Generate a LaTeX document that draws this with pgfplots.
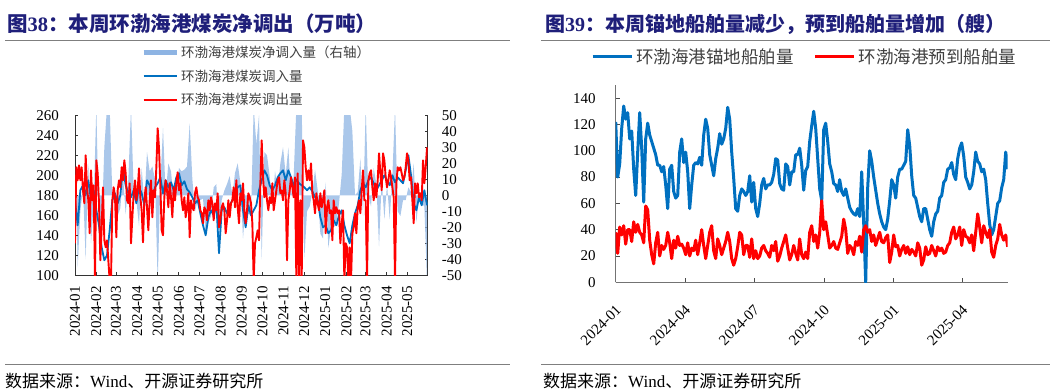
\documentclass[border=0pt]{standalone}
\usepackage{pgfplots}
\pgfplotsset{compat=1.18}
\usepackage{fontspec}
\setmainfont{Liberation Serif}
\newfontfamily\cjk{Noto Sans CJK SC}
\definecolor{inblue}{HTML}{0070C0}
\definecolor{outred}{HTML}{FF0000}
\definecolor{netblue}{HTML}{8EB4E3}
\definecolor{titleblue}{HTML}{1F1F7A}
\definecolor{rulegray}{HTML}{7F7F7F}
\definecolor{txtgray}{HTML}{404040}
\newcommand{\tickfont}{\fontsize{15}{15}\selectfont}
\begin{document}
\begin{tikzpicture}
\path[use as bounding box] (0pt,0pt) rectangle (1057pt,390pt);
% titles and rules
\node[anchor=base west, inner sep=0pt, text=titleblue, font=\fontsize{20.5}{20.5}\selectfont\bfseries] at (7pt,358pt) {{\cjk 图}38{\cjk ：本周环渤海港煤炭净调出（万吨）}};
\node[anchor=base west, inner sep=0pt, text=titleblue, font=\fontsize{20}{20}\selectfont\bfseries] at (545pt,358pt) {{\cjk 图}39{\cjk ：本周锚地船舶量减少，预到船舶量增加（艘）}};
\draw[rulegray, line width=0.9pt] (5pt,350pt) -- (510pt,350pt);
\draw[rulegray, line width=0.9pt] (541pt,350pt) -- (1050pt,350pt);
\draw[rulegray, line width=0.9pt] (5pt,25.7pt) -- (510pt,25.7pt);
\draw[rulegray, line width=0.9pt] (541pt,25.7pt) -- (1050pt,25.7pt);
\node[anchor=base west, inner sep=0pt, font=\fontsize{17}{17}\selectfont] at (5pt,2pt) {{\cjk 数据来源：}Wind{\cjk 、开源证券研究所}};
\node[anchor=base west, inner sep=0pt, font=\fontsize{17}{17}\selectfont] at (543pt,2pt) {{\cjk 数据来源：}Wind{\cjk 、开源证券研究所}};

% ---------- left panel: net (right axis) ----------
\begin{axis}[
  at={(75pt,114.7pt)}, anchor=south west,
  width=352.7pt, height=160pt, scale only axis,
  xmin=0, xmax=264.5, ymin=-50, ymax=50,
  axis x line=none, axis y line*=right,
  axis line style={-, black!80, line width=0.9pt},
  ytick={-50,-40,-30,-20,-10,0,10,20,30,40,50},
  tick align=inside, major tick length=3pt,
  tick style={black!80, line width=0.8pt},
  /pgf/number format/assume math mode=true,
  yticklabel style={font=\tickfont, anchor=west, inner sep=0pt, xshift=14pt},
]
\addplot[fill=netblue, draw=none, fill opacity=0.75] coordinates {
(0,43)(2,-45)(4,-10)(6,5)(8,-40)(10,20)(12,-30)(14,-5)(16,55)(18,-22)(20,-20)(22,30)(24,55)(26,55)(28,0)(30,4)(32,-13)(34,-8)(36,13)(38,-12)(40,10)(42,55)(44,3)(46,-3)(48,-19)(50,17)(52,-5)(54,27)(56,15)(58,18)(60,10)(62,-55)(64,8)(66,42)(68,0)(70,20)(72,15)(74,-3)(76,6)(78,17)(80,15)(82,16)(84,18)(86,45)(88,10)(90,-10)(92,-3)(94,-3)(96,-2)(98,-25)(100,-17)(102,-13)(104,5)(106,7)(108,-26)(110,-3)(112,3)(114,7)(116,12)(118,0)(120,14)(122,20)(124,8)(126,-27)(128,-4)(130,-12)(132,-12)(134,55)(136,32)(138,50)(140,-40)(142,27)(144,25)(146,12)(148,-7)(150,15)(152,3)(154,20)(156,30)(158,13)(160,30)(162,0)(164,12)(166,55)(168,55)(170,55)(172,-40)(174,-10)(176,-7)(178,2)(180,16)(182,3)(184,-24)(186,-27)(188,8)(190,-33)(192,-20)(194,-20)(196,-18)(198,-5)(200,13)(202,55)(204,55)(206,55)(208,40)(210,0)(212,2)(214,23)(216,-13)(218,55)(220,0)(222,-7)(224,17)(226,7)(228,-32)(230,10)(232,-15)(234,7)(236,-15)(238,12)(240,55)(242,-10)(244,-13)(246,-3)(248,-3)(250,5)(252,2)(254,20)(256,-17)(258,0)(260,-5)(262,-7)(264,-55)
} \closedcycle;
\end{axis}

% ---------- left panel: lines (left axis) ----------
\begin{axis}[
  at={(75pt,114.7pt)}, anchor=south west,
  width=352.7pt, height=160pt, scale only axis,
  xmin=0, xmax=264.5, ymin=100, ymax=260,
  axis x line*=bottom, axis y line*=left,
  axis line style={-, black!80, line width=0.9pt},
  ytick={100,120,140,160,180,200,220,240,260},
  xtick={0,15.9,30.8,46.7,62.0,77.9,93.3,109.2,125.1,140.5,156.4,171.8,187.7,203.6,217.9,233.8,249.2},
  xticklabels={2024-01,2024-02,2024-03,2024-04,2024-05,2024-06,2024-07,2024-08,2024-09,2024-10,2024-11,2024-12,2025-01,2025-02,2025-03,2025-04,2025-05},
  tick align=inside, major tick length=3pt,
  tick style={black!80, line width=0.8pt},
  /pgf/number format/assume math mode=true,
  yticklabel style={font=\tickfont, anchor=east, inner sep=0pt, xshift=-16pt},
  xticklabel style={font=\tickfont, yshift=-11pt, rotate=90, anchor=east, inner sep=0pt},
  legend style={at={(axis description cs:0.187,1.445)}, anchor=north west, draw=none, fill=none,
    font=\cjk\fontsize{13.5}{13.5}\selectfont\color{txtgray}, row sep=6.5pt, inner sep=0pt,
    nodes={inner sep=2pt}},
  legend cell align=left,
  legend image code/.code={\draw[#1] (0pt,0pt) -- (33pt,0pt);},
]
\addlegendimage{netblue, line width=5pt}
\addlegendentry{环渤海港煤炭净调入量（右轴）}
\addplot[inblue, line width=1.8pt, line join=round] coordinates {
(0,175)(2,150)(4,185)(6,190)(8,180)(10,195)(12,175)(14,185)(16,165)(18,150)(20,128)(22,115)(24,120)(26,145)(28,175)(30,182)(32,172)(34,180)(36,208)(38,190)(40,182)(42,178)(44,185)(46,172)(48,188)(50,182)(52,170)(54,195)(56,190)(58,176)(60,188)(62,192)(64,198)(66,182)(68,195)(70,188)(72,193)(74,185)(76,198)(78,202)(80,190)(82,194)(84,186)(86,183)(88,178)(90,172)(92,175)(94,162)(96,150)(98,140)(100,158)(102,165)(104,160)(106,172)(108,122)(110,165)(112,168)(114,162)(116,170)(118,175)(120,182)(122,188)(124,190)(126,165)(128,148)(130,170)(132,160)(134,165)(136,170)(138,185)(140,195)(142,205)(144,200)(146,190)(148,185)(150,190)(152,198)(154,202)(156,205)(158,195)(160,205)(162,198)(164,190)(166,196)(168,192)(170,190)(172,188)(174,185)(176,188)(178,184)(180,178)(182,175)(184,158)(186,148)(188,150)(190,142)(192,145)(194,155)(196,150)(198,160)(200,165)(202,150)(204,140)(206,132)(208,150)(210,162)(212,170)(214,185)(216,192)(218,188)(220,195)(222,198)(224,192)(226,185)(228,190)(230,195)(232,200)(234,195)(236,190)(238,200)(240,193)(242,198)(244,195)(246,192)(248,205)(250,220)(252,200)(254,172)(256,165)(258,178)(260,170)(262,185)(264,170)
};
\addlegendentry{环渤海港煤炭调入量}
\addplot[outred, line width=1.9pt, line join=round] coordinates {
(0,132)(1,208)(2,195)(3,210)(4,195)(5,208)(6,185)(7,172)(8,220)(9,188)(10,175)(11,142)(12,205)(13,175)(14,190)(15,95)(16,215)(17,202)(18,172)(19,115)(20,148)(21,188)(22,135)(23,128)(24,135)(25,115)(26,95)(27,95)(28,175)(29,188)(30,178)(31,138)(32,185)(33,195)(34,188)(35,208)(36,195)(37,215)(38,202)(39,175)(40,172)(41,192)(42,132)(43,158)(44,182)(45,195)(46,175)(47,185)(48,207)(49,178)(50,165)(51,133)(52,175)(53,188)(54,168)(55,145)(56,175)(57,195)(58,158)(59,185)(60,178)(61,208)(62,247)(63,227)(64,190)(65,145)(66,140)(67,178)(68,195)(69,185)(70,168)(71,192)(72,178)(73,158)(74,188)(75,175)(76,192)(77,203)(78,185)(79,192)(80,175)(81,165)(82,178)(83,158)(84,168)(85,182)(86,138)(87,175)(88,168)(89,165)(90,182)(91,188)(92,178)(93,175)(94,165)(95,162)(96,152)(97,168)(98,165)(99,155)(100,175)(101,165)(102,178)(103,172)(104,155)(105,172)(106,165)(107,182)(108,148)(109,155)(110,168)(111,172)(112,165)(113,142)(114,155)(115,175)(116,158)(117,172)(118,175)(119,188)(120,168)(121,195)(122,168)(123,152)(124,182)(125,175)(126,192)(127,165)(128,152)(129,165)(130,182)(131,178)(132,172)(133,152)(134,95)(135,132)(136,138)(137,145)(138,135)(139,192)(140,235)(141,198)(142,178)(143,188)(144,175)(145,165)(146,178)(147,172)(148,192)(149,165)(150,175)(151,185)(152,195)(153,198)(154,182)(155,185)(156,175)(157,195)(158,182)(159,115)(160,175)(161,185)(162,198)(163,188)(164,178)(165,198)(166,95)(167,202)(168,95)(169,175)(170,95)(171,235)(172,228)(173,208)(174,195)(175,205)(176,195)(177,212)(178,182)(179,175)(180,162)(181,182)(182,172)(183,165)(184,182)(185,168)(186,175)(187,185)(188,142)(189,168)(190,175)(191,162)(192,165)(193,135)(194,175)(195,162)(196,168)(197,162)(198,165)(199,132)(200,152)(201,165)(202,95)(203,132)(204,128)(205,95)(206,128)(207,95)(208,142)(209,148)(210,162)(211,142)(212,168)(213,175)(214,162)(215,185)(216,205)(217,175)(218,175)(219,95)(220,195)(221,202)(222,205)(223,188)(224,175)(225,192)(226,178)(227,195)(228,222)(229,202)(230,185)(231,222)(232,215)(233,198)(234,188)(235,195)(236,205)(237,198)(238,188)(239,178)(240,95)(241,192)(242,208)(243,205)(244,208)(245,202)(246,195)(247,198)(248,208)(249,222)(250,215)(251,195)(252,198)(253,175)(254,152)(255,192)(256,182)(257,192)(258,178)(259,182)(260,175)(261,215)(262,192)(263,208)(264,228)
};
\addlegendentry{环渤海港煤炭调出量}
\end{axis}

% ---------- right panel ----------
\begin{axis}[
  at={(615.7pt,107.7pt)}, anchor=south west,
  width=392pt, height=197.3pt, scale only axis,
  xmin=0, xmax=196, ymin=0, ymax=150,
  axis x line*=bottom, axis y line*=left,
  axis line style={-, black!55, line width=1.2pt},
  ytick={0,20,40,60,80,100,120,140},
  xtick={0,34.6,69.1,104.1,139.0,173.2},
  xticklabels={2024-01,2024-04,2024-07,2024-10,2025-01,2025-04},
  tick align=inside, major tick length=4pt,
  tick style={black!70, line width=0.8pt},
  /pgf/number format/assume math mode=true,
  yticklabel style={font=\tickfont, anchor=east, inner sep=0pt, xshift=-20pt},
  xticklabel style={font=\tickfont, xshift=3pt, yshift=-25pt, rotate=45, anchor=east, inner sep=0pt},
  legend columns=2,
  legend style={at={(axis description cs:-0.063,1.142)}, anchor=west, draw=none, fill=none,
    font=\cjk\fontsize{17.5}{17.5}\selectfont\color{txtgray}, inner sep=0pt,
    nodes={inner sep=3pt},
    /tikz/every even column/.append style={column sep=17pt}},
  legend image code/.code={\draw[#1] (0pt,0pt) -- (39pt,0pt);},
]
\addplot[inblue, line width=3pt, line join=round] coordinates {
(0,122)(1,80)(2,90)(3,117)(4,134)(5,124)(6,129)(7,109)(8,115)(9,86)(10,66)(11,99)(12,129)(13,102)(14,61)(15,109)(16,121)(17,112)(18,107)(19,102)(20,97)(21,89)(22,89)(23,84)(24,88)(25,74)(26,56)(27,86)(28,89)(29,69)(30,64)(31,66)(32,99)(33,109)(34,91)(35,99)(36,84)(37,56)(38,74)(39,89)(40,91)(41,90)(42,95)(43,89)(44,112)(45,124)(46,117)(47,97)(48,89)(49,81)(50,94)(51,102)(52,113)(53,105)(54,109)(55,117)(56,133)(57,124)(58,99)(59,79)(60,56)(61,54)(62,66)(63,71)(64,69)(65,66)(66,69)(67,81)(68,61)(69,76)(70,56)(71,50)(72,60)(73,74)(74,79)(75,71)(76,74)(77,74)(78,76)(79,82)(80,94)(81,93)(82,75)(83,71)(84,70)(85,90)(86,88)(87,74)(88,84)(89,84)(90,97)(91,97)(92,102)(93,89)(94,70)(95,85)(96,88)(97,107)(98,119)(99,130)(100,117)(101,94)(102,71)(103,62)(104,116)(105,121)(106,107)(107,90)(108,84)(109,75)(110,74)(111,69)(112,78)(113,69)(114,66)(115,71)(116,64)(117,57)(118,54)(119,52)(120,51)(121,56)(122,50)(123,84)(124,45)(125,0)(126,72)(127,100)(128,92)(129,80)(130,70)(131,60)(132,52)(133,46)(134,42)(135,40)(136,48)(137,62)(138,78)(139,74)(140,64)(141,80)(142,86)(143,86)(144,89)(145,92)(146,116)(147,104)(148,81)(149,66)(150,64)(151,57)(152,50)(153,46)(154,56)(155,56)(156,48)(157,40)(158,35)(159,46)(160,52)(161,54)(162,64)(163,66)(164,76)(165,78)(166,86)(167,87)(168,91)(169,82)(170,78)(171,94)(172,102)(173,106)(174,96)(175,80)(176,76)(177,71)(178,74)(179,84)(180,99)(181,92)(182,90)(183,84)(184,86)(185,78)(186,60)(187,44)(188,36)(189,40)(190,50)(191,60)(192,62)(193,72)(194,78)(195,99)(196,86)
};
\addlegendentry{环渤海港锚地船舶量}
\addplot[outred, line width=3pt, line join=round] coordinates {
(0,38)(1,22)(2,42)(3,36)(4,43)(5,29)(6,40)(7,40)(8,31)(9,46)(10,38)(11,44)(12,38)(13,36)(14,30)(15,58)(16,55)(17,32)(18,21)(19,14)(20,30)(21,38)(22,20)(23,28)(24,25)(25,28)(26,38)(27,30)(28,18)(29,32)(30,26)(31,35)(32,28)(33,29)(34,26)(35,21)(36,30)(37,20)(38,26)(39,24)(40,32)(41,21)(42,30)(43,40)(44,28)(45,18)(46,28)(47,38)(48,43)(49,24)(50,18)(51,33)(52,28)(53,21)(54,26)(55,31)(56,38)(57,31)(58,18)(59,13)(60,18)(61,27)(62,38)(63,36)(64,21)(65,28)(66,28)(67,19)(68,33)(69,18)(70,24)(71,18)(72,20)(73,26)(74,28)(75,24)(76,22)(77,19)(78,28)(79,24)(80,31)(81,16)(82,20)(83,26)(84,31)(85,36)(86,26)(87,17)(88,21)(89,28)(90,22)(91,17)(92,33)(93,21)(94,18)(95,23)(96,18)(97,38)(98,43)(99,31)(100,36)(101,26)(102,38)(103,62)(104,40)(105,46)(106,36)(107,26)(108,28)(109,31)(110,26)(111,25)(112,30)(113,35)(114,48)(115,40)(116,22)(117,28)(118,26)(119,21)(120,31)(121,28)(122,35)(123,23)(124,40)(125,43)(126,38)(127,40)(128,31)(129,36)(130,28)(131,33)(132,38)(133,31)(134,30)(135,34)(136,36)(137,15)(138,23)(139,36)(140,27)(141,28)(142,20)(143,25)(144,28)(145,22)(146,27)(147,21)(148,25)(149,23)(150,20)(151,30)(152,26)(153,13)(154,17)(155,27)(156,21)(157,22)(158,28)(159,24)(160,20)(161,27)(162,24)(163,26)(164,22)(165,23)(166,28)(167,30)(168,38)(169,42)(170,33)(171,36)(172,42)(173,28)(174,40)(175,35)(176,34)(177,30)(178,36)(179,24)(180,38)(181,52)(182,42)(183,30)(184,43)(185,38)(186,34)(187,40)(188,23)(189,19)(190,28)(191,33)(192,44)(193,36)(194,32)(195,36)(196,27)
};
\addlegendentry{环渤海港预到船舶量}
\end{axis}
\end{tikzpicture}
\end{document}
